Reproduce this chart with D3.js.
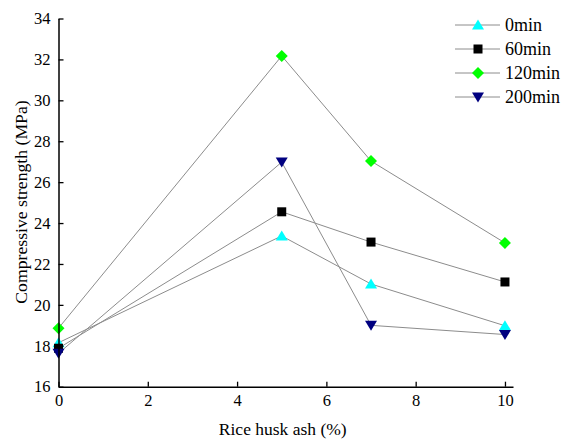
<!DOCTYPE html>
<html><head><meta charset="utf-8">
<script src="https://cdn.jsdelivr.net/npm/d3@7"></script>
<style>body{margin:0;background:#fff}svg{display:block}</style>
</head><body>
<script>
const xValues = [0, 5, 7, 10];
const seriesNames = ["0min", "60min", "120min", "200min"];
const s0min = [18.15, 23.37, 21.02, 18.98];
const s60min = [17.88, 24.55, 23.07, 21.12];
const s120min = [18.86, 32.17, 27.03, 23.03];
const s200min = [17.63, 26.98, 19.0, 18.55];
const xTicks = [0, 2, 4, 6, 8, 10];
const yTicks = [16, 18, 20, 22, 24, 26, 28, 30, 32, 34];

const series = [
  {name: seriesNames[0], values: s0min, color: "#00ffff", shape: "triUp"},
  {name: seriesNames[1], values: s60min, color: "#000000", shape: "square"},
  {name: seriesNames[2], values: s120min, color: "#00ff00", shape: "diamond"},
  {name: seriesNames[3], values: s200min, color: "#000080", shape: "triDown"}
];

const FONT = '"Liberation Serif"';
const W = 565, H = 444;
const svg = d3.select("body").append("svg").attr("width", W).attr("height", H);
const x = d3.scaleLinear().domain([0, 10.18]).range([58.5, 513]);
const y = d3.scaleLinear().domain([16, 34]).range([386.7, 18.5]);

function marker(g, shape, color) {
  if (shape === "triUp") g.append("path").attr("d", "M0,-5.5L6,4.5L-6,4.5Z").attr("fill", color);
  else if (shape === "triDown") g.append("path").attr("d", "M0,5.5L6,-4.5L-6,-4.5Z").attr("fill", color);
  else if (shape === "square") g.append("rect").attr("x", -4.5).attr("y", -4.5).attr("width", 9).attr("height", 9).attr("fill", color);
  else if (shape === "diamond") g.append("path").attr("d", "M0,-6L6,0L0,6L-6,0Z").attr("fill", color);
}

const line = d3.line().x((d, i) => x(xValues[i])).y(d => y(d));
series.forEach(s => {
  svg.append("path").attr("d", line(s.values)).attr("fill", "none")
    .attr("stroke", "#8c8c8c").attr("stroke-width", 1);
});
series.forEach(s => {
  s.values.forEach((v, i) => {
    const g = svg.append("g").attr("transform", `translate(${x(xValues[i])},${y(v)})`);
    marker(g, s.shape, s.color);
  });
});

const xAxis = d3.axisBottom(x).tickValues(xTicks).tickSizeInner(-5).tickSizeOuter(0).tickPadding(8);
const gx = svg.append("g").attr("transform", `translate(0,${y(16)})`).call(xAxis);
const yAxis = d3.axisLeft(y).tickValues(yTicks).tickSizeInner(-5).tickSizeOuter(0).tickPadding(8);
const gy = svg.append("g").attr("transform", `translate(${x(0)},0)`).call(yAxis);
[gx, gy].forEach(g => {
  g.attr("font-family", null).attr("font-size", null);
  g.select(".domain").attr("stroke", "#000").attr("stroke-width", 1.5);
  g.selectAll(".tick line").attr("stroke", "#000").attr("stroke-width", 1.3);
  g.selectAll("text").style("font-family", FONT).style("font-size", "16.5px").attr("fill", "#000");
});

svg.append("text").attr("x", (x(0) + x(10.18)) / 2 - 3).attr("y", 435)
  .attr("text-anchor", "middle").style("font-family", FONT).style("font-size", "17.5px").text("Rice husk ash (%)");
svg.append("text").attr("transform", `translate(27,202) rotate(-90)`)
  .attr("text-anchor", "middle").style("font-family", FONT).style("font-size", "17.7px").text("Compressive strength (MPa)");

series.forEach((s, i) => {
  const ly = 25 + i * 24;
  svg.append("line").attr("x1", 455).attr("x2", 500).attr("y1", ly).attr("y2", ly)
    .attr("stroke", "#8c8c8c").attr("stroke-width", 1);
  const g = svg.append("g").attr("transform", `translate(478,${ly})`);
  marker(g, s.shape, s.color);
  svg.append("text").attr("x", 505).attr("y", ly + 6).style("font-family", FONT).style("font-size", "18px").text(s.name);
});
</script>
</body></html>
